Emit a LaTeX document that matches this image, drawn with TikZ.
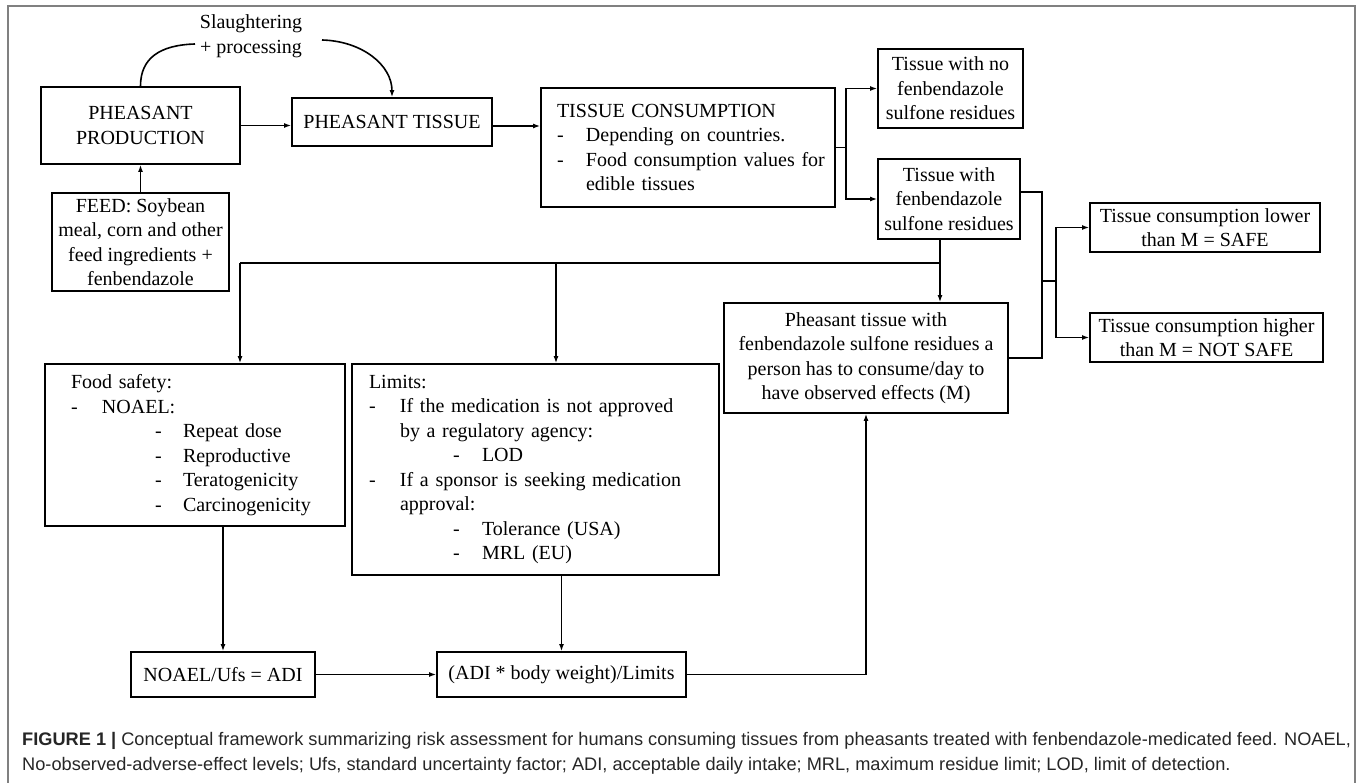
\documentclass[tikz,border=0pt]{standalone}
\usepackage{fontspec}
\setmainfont{Liberation Serif}
\newfontfamily\capsans{Liberation Sans}
\usetikzlibrary{arrows.meta, calc, positioning}

\begin{document}
\begin{tikzpicture}[x=1pt, y=-1pt, >={Latex[length=7pt,width=5pt]},
  font=\fontsize{20}{24.5}\selectfont,
  box/.style={draw, line width=1.8pt, inner sep=0pt, align=center},
  listbox/.style={draw, line width=1.8pt, inner ysep=0pt, align=left},
  link/.style={line width=1.6pt},
  caption/.style={font=\capsans\fontsize{18.2}{25}\selectfont, text=black!85, inner sep=0pt, anchor=base west}]

  \useasboundingbox (0,0) rectangle (1358,783);
  \draw[gray, line width=2pt] (8,783) -- (8,6) -- (1355,6) -- (1355,783);

  % production line
  \node[box, minimum width=199pt, minimum height=77pt] (prod) at (140.5,125.5) {PHEASANT\\PRODUCTION};
  \node[box, minimum width=177pt, minimum height=98pt] (feed) at (140.5,242) {FEED: Soybean\\meal, corn and other\\feed ingredients +\\fenbendazole};
  \node[box, minimum width=200pt, minimum height=48pt] (tissue) at (392,122) {PHEASANT TISSUE};
  \node[inner sep=0pt, align=center] (slaughter) at (251,36) {Slaughtering\\+ processing};
  \node[listbox, inner xsep=16pt, text width=262pt, minimum height=119pt] (cons) at (688,147.5)
    {TISSUE CONSUMPTION\\
     \makebox[29pt][l]{-}Depending on countries.\\
     \mbox{\makebox[29pt][l]{-}Food consumption values for}\\
     \hspace*{29pt}edible tissues};

  % residues
  \node[box, minimum width=145pt, minimum height=79pt] (nores) at (950.5,88.5) {Tissue with no\\fenbendazole\\sulfone residues};
  \node[box, minimum width=142pt, minimum height=80pt] (res) at (949,199) {Tissue with\\fenbendazole\\sulfone residues};
  \node[box, minimum width=284pt, minimum height=110pt] (mbox) at (866,358) {Pheasant tissue with\\fenbendazole sulfone residues a\\person has to consume/day to\\have observed effects (M)};
  \node[box, minimum width=230pt, minimum height=49pt] (safe) at (1205,227.5) {Tissue consumption lower\\than M = SAFE};
  \node[box, minimum width=233pt, minimum height=49pt] (notsafe) at (1206.5,337.5) {Tissue consumption higher\\than M = NOT SAFE};

  % assessment
  \node[listbox, inner xsep=26pt, text width=248pt, minimum height=162pt] (food) at (195,445)
    {Food safety:\\
     \makebox[31pt][l]{-}NOAEL:\\
     \hspace*{84pt}\makebox[28pt][l]{-}Repeat dose\\
     \hspace*{84pt}\makebox[28pt][l]{-}Reproductive\\
     \hspace*{84pt}\makebox[28pt][l]{-}Teratogenicity\\
     \hspace*{84pt}\makebox[28pt][l]{-}Carcinogenicity};
  \node[listbox, inner xsep=17pt, text width=333pt, minimum height=211pt] (limits) at (535.5,469.5)
    {Limits:\\
     \makebox[31pt][l]{-}If the medication is not approved\\
     \hspace*{31pt}by a regulatory agency:\\
     \hspace*{84pt}\makebox[29pt][l]{-}LOD\\
     \makebox[31pt][l]{-}If a sponsor is seeking medication\\
     \hspace*{31pt}approval:\\
     \hspace*{84pt}\makebox[29pt][l]{-}Tolerance (USA)\\
     \hspace*{84pt}\makebox[29pt][l]{-}MRL (EU)};
  \node[box, minimum width=184pt, minimum height=45pt] (noael) at (223,674.5) {NOAEL/Ufs = ADI};
  \node[box, minimum width=249pt, minimum height=45pt] (adi) at (561.5,674.5) {(ADI * body weight)/Limits};

  % connectors
  \coordinate (slL) at (195,44);
  \coordinate (slR) at (322,40);
  \draw[link] (prod.north) .. controls (140.5,58) and (160,45) .. (slL);
  \draw[link, ->] (slR) .. controls (362,41) and (392,65) .. (tissue.north);
  \draw[link, ->] (feed.north) -- (prod.south);
  \draw[link, ->] (prod.east) -- (prod.east -| tissue.west);
  \draw[link, ->] (tissue.east |- 0,126) -- (cons.west |- 0,126);

  \draw[link] (cons.east) -- ++(10,0) coordinate (jc);
  \draw[link, ->] (jc) |- (nores.west);
  \draw[link, ->] (jc) |- (res.west);

  \coordinate (jr) at (940,263);
  \coordinate (jl) at (240,263);
  \coordinate (jm) at (556,263);
  \draw[link] (res.south -| jr) -- (jr) -- (jl);
  \draw[link, ->] (jr) -- (jr |- mbox.north);
  \draw[link, ->] (jl) -- (jl |- food.north);
  \draw[link, ->] (jm) -- (jm |- limits.north);

  \coordinate (jx) at (1042,281);
  \draw[link] ([yshift=7pt]res.east) -| (mbox.east -| jx) -- (mbox.east);
  \draw[link] (jx) -- ++(14,0) coordinate (jy);
  \draw[link, ->] (jy) |- (safe.west);
  \draw[link, ->] (jy) |- (notsafe.west);

  \draw[link, ->] (food.south -| noael.north) -- (noael.north);
  \draw[link, ->] (limits.south -| adi.north) -- (adi.north);
  \draw[link, ->] (noael.east) -- (adi.west);
  \draw[link, ->] (adi.east) -| (mbox.south);

  % caption
  \node[caption] (cap1) at (22,745) {{\bfseries FIGURE 1 |} Conceptual framework summarizing risk assessment for humans consuming tissues from pheasants treated with fenbendazole-medicated feed. NOAEL,};
  \node[caption] (cap2) at (22,770) {No-observed-adverse-effect levels; Ufs, standard uncertainty factor; ADI, acceptable daily intake; MRL, maximum residue limit; LOD, limit of detection.};

\end{tikzpicture}
\end{document}
